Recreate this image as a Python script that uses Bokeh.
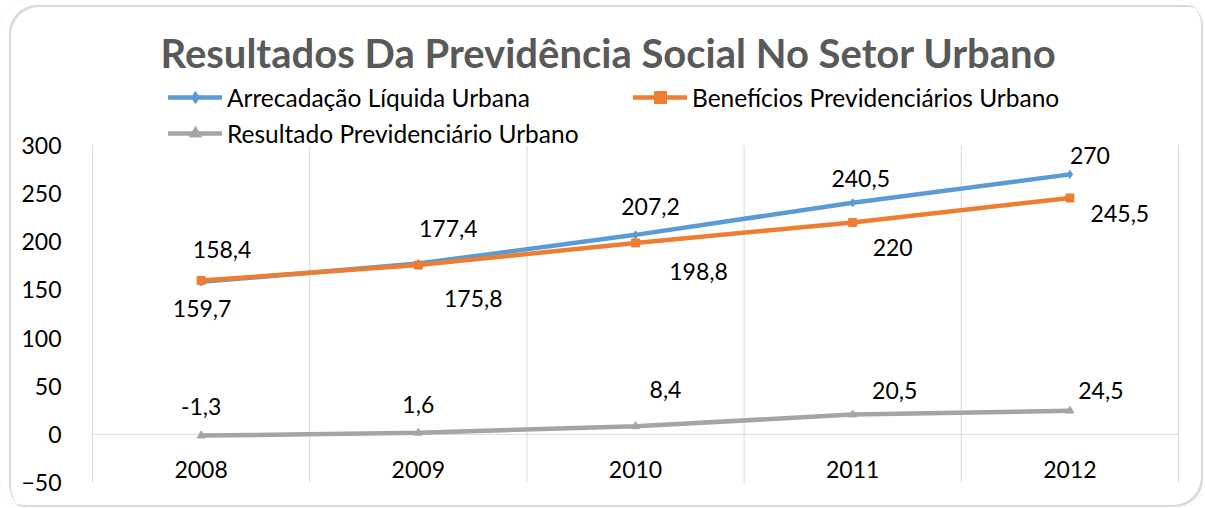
from bokeh.plotting import figure
from bokeh.models import (ColumnDataSource, Range1d, FixedTicker, Label, LabelSet,
                          Legend, LegendItem, InlineStyleSheet)
from bokeh.core.properties import value
from bokeh.embed import file_html
from bokeh.resources import INLINE

# ---------------- data ----------------
years = ["2008", "2009", "2010", "2011", "2012"]
arrecadacao = [158.4, 177.4, 207.2, 240.5, 270.0]
beneficios = [159.7, 175.8, 198.8, 220.0, 245.5]
resultado = [-1.3, 1.6, 8.4, 20.5, 24.5]
y_ticks = [-50, 0, 50, 100, 150, 200, 250, 300]

series_names = ["Arrecadação Líquida Urbana",
                "Benefícios Previdenciários Urbano",
                "Resultado Previdenciário Urbano"]
title_text = "Resultados Da Previdência Social No Setor Urbano"

# ---------------- label placement (screen px, + right / + up) ----------------
arr_dx = [21, 30, 15, 8, 20]
arr_dy = [32, 35, 28, 24, 19]
ben_dx = [1, 55, 63, 40, 50]
ben_dy = [-28, -33, -29, -25, -16]
res_dx = [0, 0, 30, 42, 31]
res_dy = [29, 28, 37, 24, 20]

# ---------------- layout (pixels) ----------------
W, H = 1205, 508
PLOT_L, PLOT_R, PLOT_T, PLOT_B = 92, 1178, 145, 482
FONT = "Lato"
COLORS = ["#5B9BD5", "#ED7D31", "#A5A5A5"]
MARKERS = ["diamond", "square", "triangle"]
GRID = "#D9D9D9"
FRAME_CSS = ("box-shadow: inset 9px 5px 0 0 #FFFFFF, inset -2px -1px 0 0 #FFFFFF, "
             "inset 11px 7px 0 0 #D9D9D9, inset -4px -3px 0 0 #D9D9D9; "
             "border-radius: 28px; background: #FFFFFF;")


def fmt(v):
    return f"{v:g}".replace(".", ",")


n = len(years)
xs = [i + 0.5 for i in range(n)]
ymin, ymax = y_ticks[0], y_ticks[-1]
px_x = (PLOT_R - PLOT_L) / n
px_y = (PLOT_B - PLOT_T) / (ymax - ymin)
x_range = Range1d(0, n + (W - PLOT_R) / px_x)
y_range = Range1d(ymin - (H - PLOT_B) / px_y, ymax + PLOT_T / px_y)

p = figure(width=W, height=H, output_backend="svg", toolbar_location=None,
           x_range=x_range, y_range=y_range, x_axis_location=None,
           min_border_left=PLOT_L, min_border_right=0, min_border_top=0,
           min_border_bottom=0)
p.outline_line_color = None
p.background_fill_color = None
p.border_fill_color = None
p.xgrid.visible = False
p.ygrid.visible = False
p.stylesheets = [InlineStyleSheet(css=":host { " + FRAME_CSS + " }")]

ax = p.yaxis[0]
ax.ticker = FixedTicker(ticks=y_ticks)
ax.bounds = (ymin, ymax)
ax.axis_line_color = GRID
ax.major_tick_line_color = None
ax.minor_tick_line_color = None
ax.major_label_standoff = 25
ax.major_label_text_font = FONT
ax.major_label_text_font_size = "23px"
ax.major_label_text_color = "#000000"

# category boundary lines and zero line
bounds = list(range(1, n + 1))
p.segment(x0=bounds, x1=bounds, y0=[ymin] * n, y1=[ymax] * n, line_color=GRID, line_width=1)
p.segment(x0=[0], x1=[n], y0=[0], y1=[0], line_color=GRID, line_width=1)

items = []
for vals, name, col, mk, dx, dy in zip(
        [arrecadacao, beneficios, resultado], series_names, COLORS, MARKERS,
        [arr_dx, ben_dx, res_dx], [arr_dy, ben_dy, res_dy]):
    src = ColumnDataSource(dict(x=xs, y=vals, txt=[fmt(v) for v in vals], dx=dx, dy=dy))
    lr = p.line("x", "y", source=src, line_color=col, line_width=4.5, line_cap="round")
    sr = p.scatter("x", "y", source=src, marker=mk, size=8, fill_color=col, line_color=col)
    items.append(LegendItem(label=name, renderers=[lr, sr]))
    p.add_layout(LabelSet(x="x", y="y", text="txt", source=src, x_offset="dx", y_offset="dy",
                          text_align="center", text_baseline="middle",
                          text_font=value(FONT), text_font_size=value("23px"),
                          text_color="#000000"))

# category labels just below the zero line
ysrc = ColumnDataSource(dict(x=xs, y=[0] * n, txt=years))
p.add_layout(LabelSet(x="x", y="y", text="txt", source=ysrc, y_offset=-35,
                      text_align="center", text_baseline="middle",
                      text_font=value(FONT), text_font_size=value("23px"),
                      text_color="#000000"))

legend = Legend(items=items, location=(168 - PLOT_L, H - 148), orientation="horizontal",
                ncols=2, glyph_width=54, glyph_height=30, label_height=30,
                label_width=400, label_standoff=5, spacing=6, padding=0, margin=0,
                border_line_color=None, background_fill_alpha=0,
                label_text_font=FONT, label_text_font_size="24.5px",
                label_text_color="#000000")
p.add_layout(legend)

p.add_layout(Label(x=608 - PLOT_L, y=H - 52, x_units="screen", y_units="screen",
                   text=title_text, text_align="center", text_baseline="middle",
                   text_font=FONT, text_font_size="40px", text_font_style="bold",
                   text_color="#595959"))

open("out.html", "w").write(file_html(p, INLINE))
